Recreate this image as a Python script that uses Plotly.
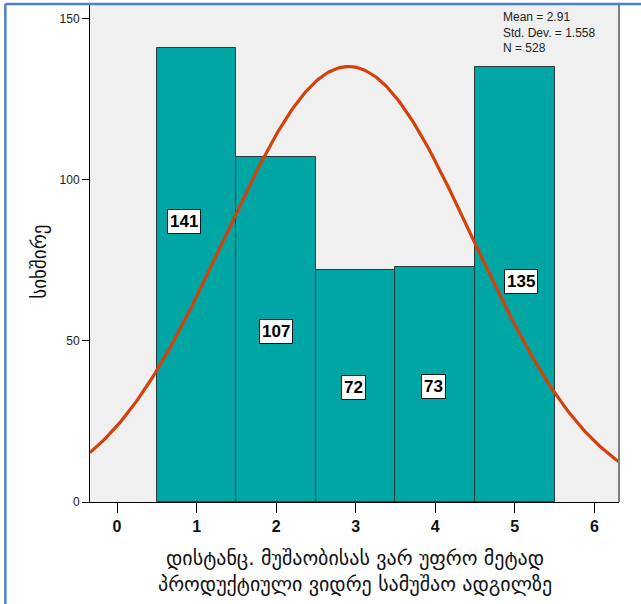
import numpy as np
import plotly.graph_objects as go

# Histogram data: response categories and their counts
categories = [1, 2, 3, 4, 5]
counts = [141, 107, 72, 73, 135]

# Summary statistics shown in the corner
mean_val = 2.91
std_val = 1.558
n_total = 528

# Count label positions (x, y in data units)
label_x = [0.84, 2.0, 2.97, 3.98, 5.08]
label_y = [87, 53, 35.5, 36, 68.5]

x_ticks = [0, 1, 2, 3, 4, 5, 6]
y_ticks = [0, 50, 100, 150]

x_title_lines = ["დისტანც. მუშაობისას ვარ უფრო მეტად",
                 "პროდუქტიული ვიდრე სამუშაო ადგილზე"]
y_title = "სიხშირე"

x_range = [-0.34, 6.31]
y_range = [0, 154.3]

# Normal curve scaled to counts (bin width 1)
xs = np.linspace(x_range[0], x_range[1], 300)
ys = n_total / (std_val * np.sqrt(2 * np.pi)) * np.exp(-0.5 * ((xs - mean_val) / std_val) ** 2)

fig = go.Figure()
fig.add_trace(go.Bar(
    x=categories, y=counts, width=1,
    marker=dict(color="#00A6A3", line=dict(color="#2B3A3A", width=1)),
    hoverinfo="x+y",
))
fig.add_trace(go.Scatter(
    x=xs, y=ys, mode="lines",
    line=dict(color="#D2420C", width=3.2),
    hoverinfo="skip",
))

for lx, ly, c in zip(label_x, label_y, counts):
    fig.add_annotation(
        x=lx, y=ly, text=f"<b>{c}</b>", showarrow=False,
        font=dict(family="Arial, Liberation Sans, sans-serif", size=17, color="#000000"),
        bgcolor="#FFFFFF", bordercolor="#1A1A1A", borderwidth=1, borderpad=2,
    )

fig.add_annotation(
    xref="paper", yref="paper", x=0.776, y=0.993, xanchor="left", yanchor="top",
    text=f"Mean = {mean_val}<br>Std. Dev. = {std_val}<br>N = {n_total}",
    showarrow=False, align="left",
    font=dict(family="Arial, Liberation Sans, sans-serif", size=12, color="#222222"),
)

# Axis titles (x title as two separately placed lines)
x_line_pos = [-0.112, -0.164]
for txt, yp in zip(x_title_lines, x_line_pos):
    fig.add_annotation(
        xref="paper", yref="paper", x=0.5, y=yp, xanchor="center", yanchor="middle",
        text=txt, showarrow=False,
        font=dict(family="DejaVu Sans, Noto Sans, sans-serif", size=20, color="#111111"),
    )
fig.add_annotation(
    xref="paper", yref="paper", x=-0.095, y=0.483, xanchor="center", yanchor="middle",
    text=y_title, textangle=-90, showarrow=False,
    font=dict(family="DejaVu Sans, Noto Sans, sans-serif", size=19, color="#111111"),
)

# Right edge of the plot frame
fig.add_shape(type="line", xref="paper", yref="paper", x0=1, x1=1, y0=0, y1=1,
              line=dict(color="#808080", width=2))
# Blue outer frame on the top and left sides
fig.add_shape(type="line", xref="paper", yref="paper", x0=-0.160, x1=1.05, y0=1.002, y1=1.002,
              line=dict(color="#4F7FD0", width=2.5))
fig.add_shape(type="line", xref="paper", yref="paper", x0=-0.160, x1=-0.160, y0=-0.21, y1=1.002,
              line=dict(color="#4F7FD0", width=2.5))

fig.update_layout(
    width=641, height=604,
    margin=dict(l=90, r=22, t=5, b=102),
    paper_bgcolor="#FFFFFF", plot_bgcolor="#F0F0F0",
    showlegend=False, bargap=0,
    xaxis=dict(
        range=x_range, tickvals=x_ticks, ticktext=[f"<b>{t}</b>" for t in x_ticks],
        showgrid=False, zeroline=False, showline=True, linecolor="#000000", linewidth=1,
        ticks="outside", ticklen=10, tickcolor="#000000", tickwidth=1,
        tickfont=dict(family="Liberation Sans Narrow, Arial Narrow, sans-serif", size=16, color="#111111"),
    ),
    yaxis=dict(
        range=y_range, tickvals=y_ticks,
        showgrid=False, zeroline=False, showline=True, linecolor="#000000", linewidth=1,
        ticks="outside", ticklen=7, tickcolor="#000000", tickwidth=1,
        tickfont=dict(family="Arial, Liberation Sans, sans-serif", size=12, color="#222222"),
    ),
)

fig.write_html("out.html")
